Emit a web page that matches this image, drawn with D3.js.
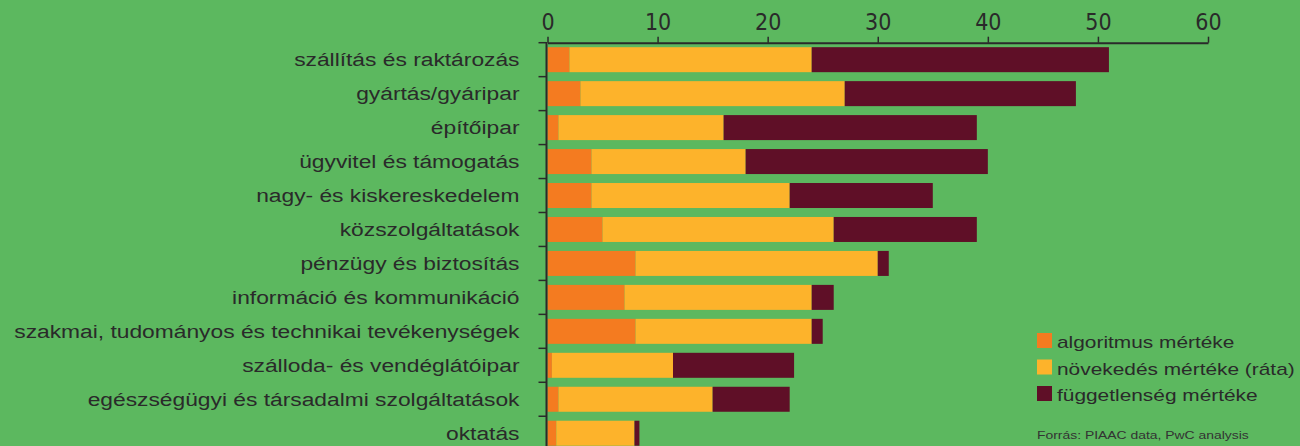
<!DOCTYPE html>
<meta charset="utf-8">
<script src="https://d3js.org/d3.v7.min.js"></script>
<style>
  body { margin: 0; background: #5cb85f; }
  svg { display: block; }
</style>
<div id="my_dataviz"></div>
<script>
// categories and series
var categories = [
  "szállítás és raktározás",
  "gyártás/gyáripar",
  "építőipar",
  "ügyvitel és támogatás",
  "nagy- és kiskereskedelem",
  "közszolgáltatások",
  "pénzügy és biztosítás",
  "információ és kommunikáció",
  "szakmai, tudományos és technikai tevékenységek",
  "szálloda- és vendéglátóipar",
  "egészségügyi és társadalmi szolgáltatások",
  "oktatás"
];
var algoritmus   = [2, 3, 1, 4, 4, 5, 8, 7, 8, 0.4, 1, 0.8];
var novekedes    = [22, 24, 15, 14, 18, 21, 22, 17, 16, 11, 14, 7.1];
var fuggetlenseg = [27, 21, 23, 22, 13, 13, 1, 2, 1, 11, 7, 0.45];
var seriesNames = ["algoritmus mértéke", "növekedés mértéke (ráta)", "függetlenség mértéke"];
var xTicks = [0, 10, 20, 30, 40, 50, 60];
var source = "Forrás: PIAAC data, PwC analysis";

var colors = ["#f47b20", "#fdb32b", "#5f0f27"];
var ink = "#2a2a2a";
var stretch = 1.2; // the original picture is stretched sideways

var width = 1300, height = 446;

var svg = d3.select("#my_dataviz")
  .append("svg")
    .attr("width", width)
    .attr("height", height);

svg.append("rect")
  .attr("width", width).attr("height", height)
  .attr("fill", "#5cb85f");

var rows = categories.map(function(c, i) {
  return {cat: c, vals: [algoritmus[i], novekedes[i], fuggetlenseg[i]]};
});
var stacked = d3.stack().keys([0, 1, 2]).value(function(d, k) { return d.vals[k]; })(rows);

var x = d3.scaleLinear()
  .domain([0, 60])
  .range([547.5, 1208]);

var y = d3.scaleBand()
  .domain(categories)
  .range([42.7, 450.2])
  .paddingInner(0.264)
  .paddingOuter(0.132);

// bars
svg.append("g")
  .selectAll("g")
  .data(stacked)
  .enter()
  .append("g")
    .attr("fill", function(d, i) { return colors[i]; })
  .selectAll("rect")
  .data(function(d) { return d; })
  .enter()
  .append("rect")
    .attr("x", function(d) { return x(d[0]); })
    .attr("width", function(d) { return x(d[1]) - x(d[0]); })
    .attr("y", function(d) { return y(d.data.cat); })
    .attr("height", y.bandwidth());

// x axis on top
var xAxis = svg.append("g")
  .attr("transform", "translate(0,42.7)")
  .call(d3.axisTop(x).tickValues(xTicks).tickSize(6).tickSizeOuter(0).tickFormat(d3.format("d")));
xAxis.select(".domain").attr("stroke", ink).attr("stroke-width", 2);
xAxis.selectAll(".tick line").attr("stroke", ink).attr("stroke-width", 1.5);
xAxis.selectAll(".tick text")
  .attr("fill", ink)
  .attr("y", -13)
  .style("font-family", "'Liberation Sans Narrow', 'DejaVu Sans Condensed', sans-serif")
  .style("font-size", "23px");

// y axis line and ticks at band borders
var gap = (y.step() - y.bandwidth()) / 2;
var borders = categories.map(function(c) { return y(c) - gap; });
borders.push(y(categories[categories.length - 1]) + y.bandwidth() + gap);

svg.append("line")
  .attr("x1", x(0) - 1).attr("x2", x(0) - 1)
  .attr("y1", 42).attr("y2", height)
  .attr("stroke", ink).attr("stroke-width", 2);

svg.append("g")
  .selectAll("line")
  .data(borders)
  .enter()
  .append("line")
    .attr("x1", x(0) - 9).attr("x2", x(0) - 1)
    .attr("y1", function(d) { return d; })
    .attr("y2", function(d) { return d; })
    .attr("stroke", ink).attr("stroke-width", 1.5);

// category labels
svg.append("g")
  .selectAll("text")
  .data(categories)
  .enter()
  .append("text")
    .attr("transform", function(d) {
      return "translate(519.5," + (y(d) + y.bandwidth() / 2 + 6.5) + ") scale(" + stretch + ",1)";
    })
    .attr("text-anchor", "end")
    .attr("fill", ink)
    .style("font-family", "'Liberation Sans', Arial, sans-serif")
    .style("font-size", "19px")
    .text(function(d) { return d; });

// legend
var legend = svg.append("g")
  .selectAll("g")
  .data(seriesNames)
  .enter()
  .append("g")
    .attr("transform", function(d, i) { return "translate(1037," + (333 + i * 26.5) + ")"; });

legend.append("rect")
  .attr("width", 15).attr("height", 15)
  .attr("fill", function(d, i) { return colors[i]; });

legend.append("text")
  .attr("transform", "translate(20,15) scale(" + stretch + ",1)")
  .attr("fill", ink)
  .style("font-family", "'Liberation Sans', Arial, sans-serif")
  .style("font-size", "17.4px")
  .text(function(d) { return d; });

svg.append("text")
  .attr("transform", "translate(1037,439) scale(" + stretch + ",1)")
  .attr("fill", "#333")
  .style("font-family", "'Liberation Sans', Arial, sans-serif")
  .style("font-size", "11.6px")
  .text(source);
</script>
